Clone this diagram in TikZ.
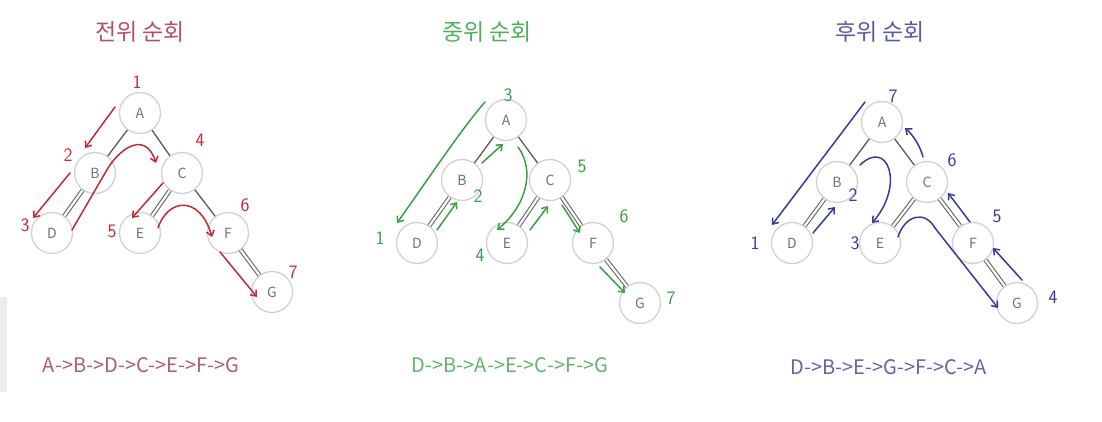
\documentclass[tikz,border=0pt]{standalone}
\usepackage{fontspec}
\newfontfamily\kr{Noto Sans CJK KR}
\usetikzlibrary{arrows.meta,calc}
\definecolor{penR}{RGB}{196,42,52}
\definecolor{penG}{RGB}{58,158,68}
\definecolor{penB}{RGB}{52,58,160}
\definecolor{ttlR}{RGB}{182,80,96}
\definecolor{ttlG}{RGB}{80,176,90}
\definecolor{ttlB}{RGB}{88,92,168}
\definecolor{txtR}{RGB}{178,92,108}
\definecolor{txtG}{RGB}{96,180,104}
\definecolor{txtB}{RGB}{96,100,170}
\tikzset{
  tnode/.style={circle,draw=black!18,line width=1.3pt,fill=white,minimum size=41pt,inner sep=0pt,
    font=\kr\fontsize{14}{14}\selectfont,text=black!55},
  sedge/.style={draw=black!65,line width=1.3pt},
  dedge/.style={draw=black!60,line width=1.1pt,double=white,double distance=2.2pt},
  pen/.style={line width=1.5pt,line cap=round,line join=round,-{Straight Barb[length=5pt,width=8pt]}},
  num/.style={font=\sffamily\fontsize{19}{19}\selectfont},
  ttl/.style={font=\kr\fontsize{23}{23}\selectfont},
  seq/.style={font=\kr\fontsize{20}{20}\selectfont},
}
\begin{document}
\begin{tikzpicture}[x=1pt,y=-1pt]
\useasboundingbox (0,0) rectangle (1102,422);
\fill[black!7] (0,297) rectangle (7,392);

% ---------------- Panel 1 : pre-order ----------------
\node[ttl,text=ttlR] (t1) at (140,32) {전위 순회};
\node[tnode] (A1) at (140,113) {A};
\node[tnode] (B1) at (95,173) {B};
\node[tnode] (C1) at (182,173) {C};
\node[tnode] (D1) at (52,233) {D};
\node[tnode] (E1) at (140,233) {E};
\node[tnode] (F1) at (228,233) {F};
\node[tnode] (G1) at (272,292) {G};
\draw[sedge] (A1) -- (B1);
\draw[sedge] (A1) -- (C1);
\draw[dedge] (B1) -- (D1);
\draw[dedge] (C1) -- (E1);
\draw[sedge] (C1) -- (F1);
\draw[dedge] (F1) -- (G1);
\begin{scope}[penR]
\draw[pen] ($(A1)+(-25,-6)$) -- ($(B1)+(-10,-25)$);
\draw[pen] ($(B1)+(-25,0)$) -- ($(D1)+(-19,-15)$);
\draw[pen] ($(D1)+(20,-3)$) -- (108,168) .. controls (122,146) and (146,132) .. ($(C1)+(-26,-10)$);
\draw[pen] ($(C1)+(-19,10)$) -- ($(E1)+(-8,-15)$);
\draw[pen] ($(E1)+(18,-5)$) .. controls (168,198) and (200,195) .. ($(F1)+(-16,4)$);
\draw[pen] ($(F1)+(-8,19)$) -- ($(G1)+(-15,5)$);
\node[num] (n11) at (137,82) {1};
\node[num] (n12) at (68,155) {2};
\node[num] (n13) at (25,225) {3};
\node[num] (n14) at (200,140) {4};
\node[num] (n15) at (112,231) {5};
\node[num] (n16) at (245,205) {6};
\node[num] (n17) at (293,272) {7};
\end{scope}
\node[seq,text=txtR] (s1) at (141,365) {A->B->D->C->E->F->G};

% ---------------- Panel 2 : in-order ----------------
\node[ttl,text=ttlG] (t2) at (487,32) {중위 순회};
\node[tnode] (A2) at (506,120) {A};
\node[tnode] (B2) at (462,180) {B};
\node[tnode] (C2) at (550,180) {C};
\node[tnode] (D2) at (417,243) {D};
\node[tnode] (E2) at (507,243) {E};
\node[tnode] (F2) at (593,243) {F};
\node[tnode] (G2) at (640,303) {G};
\draw[sedge] (A2) -- (B2);
\draw[sedge] (A2) -- (C2);
\draw[dedge] (B2) -- (D2);
\draw[dedge] (C2) -- (E2);
\draw[dedge] (C2) -- (F2);
\draw[dedge] (F2) -- (G2);
\begin{scope}[penG]
\draw[pen] ($(A2)+(-21,-18)$) .. controls (462,128) and (422,188) .. ($(D2)+(-20,-20)$);
\draw[pen] ($(D2)+(20,-13)$) -- ($(B2)+(-5,22)$);
\draw[pen] ($(B2)+(20,-17)$) -- ($(A2)+(-3,24)$);
\draw[pen] ($(A2)+(12,27)$) .. controls (535,170) and (527,205) .. ($(E2)+(-10,-13)$);
\draw[pen] ($(E2)+(23,-13)$) -- ($(C2)+(-2,26)$);
\draw[pen] ($(C2)+(12,25)$) -- ($(F2)+(-13,-10)$);
\draw[pen] ($(F2)+(7,24)$) -- ($(G2)+(-15,-10)$);
\node[num] (n23) at (508,95) {3};
\node[num] (n21) at (380,238) {1};
\node[num] (n22) at (478,196) {2};
\node[num] (n24) at (480,255) {4};
\node[num] (n25) at (582,166) {5};
\node[num] (n26) at (624,216) {6};
\node[num] (n27) at (671,298) {7};
\end{scope}
\node[seq,text=txtG] (s2) at (510,365) {D->B->A->E->C->F->G};

% ---------------- Panel 3 : post-order ----------------
\node[ttl,text=ttlB] (t3) at (880,32) {후위 순회};
\node[tnode] (A3) at (882,122) {A};
\node[tnode] (B3) at (837,182) {B};
\node[tnode] (C3) at (927,182) {C};
\node[tnode] (D3) at (792,243) {D};
\node[tnode] (E3) at (880,243) {E};
\node[tnode] (F3) at (973,243) {F};
\node[tnode] (G3) at (1017,303) {G};
\draw[sedge] (A3) -- (B3);
\draw[sedge] (A3) -- (C3);
\draw[dedge] (B3) -- (D3);
\draw[dedge] (C3) -- (E3);
\draw[dedge] (C3) -- (F3);
\draw[dedge] (F3) -- (G3);
\begin{scope}[penB]
\draw[pen] ($(A3)+(-17,-20)$) -- ($(D3)+(-20,-18)$);
\draw[pen] ($(D3)+(21,-10)$) -- ($(B3)+(-2,25)$);
\draw[pen] ($(B3)+(23,-17)$) .. controls (888,138) and (905,185) .. ($(E3)+(-8,-20)$);
\draw[pen] ($(E3)+(18,-6)$) .. controls (905,215) and (925,210) .. (935,228) -- ($(G3)+(-19,5)$);
\draw[pen] ($(G3)+(5,-23)$) -- ($(F3)+(20,5)$);
\draw[pen] ($(F3)+(-3,-21)$) -- ($(C3)+(21,11)$);
\draw[pen] ($(C3)+(-4,-25)$) .. controls (920,145) and (912,134) .. ($(A3)+(23,6)$);
\node[num] (n37) at (893,96) {7};
\node[num] (n31) at (755,243) {1};
\node[num] (n32) at (853,195) {2};
\node[num] (n33) at (855,243) {3};
\node[num] (n34) at (1053,297) {4};
\node[num] (n35) at (997,216) {5};
\node[num] (n36) at (952,160) {6};
\end{scope}
\node[seq,text=txtB] (s3) at (889,367) {D->B->E->G->F->C->A};
\end{tikzpicture}
\end{document}
